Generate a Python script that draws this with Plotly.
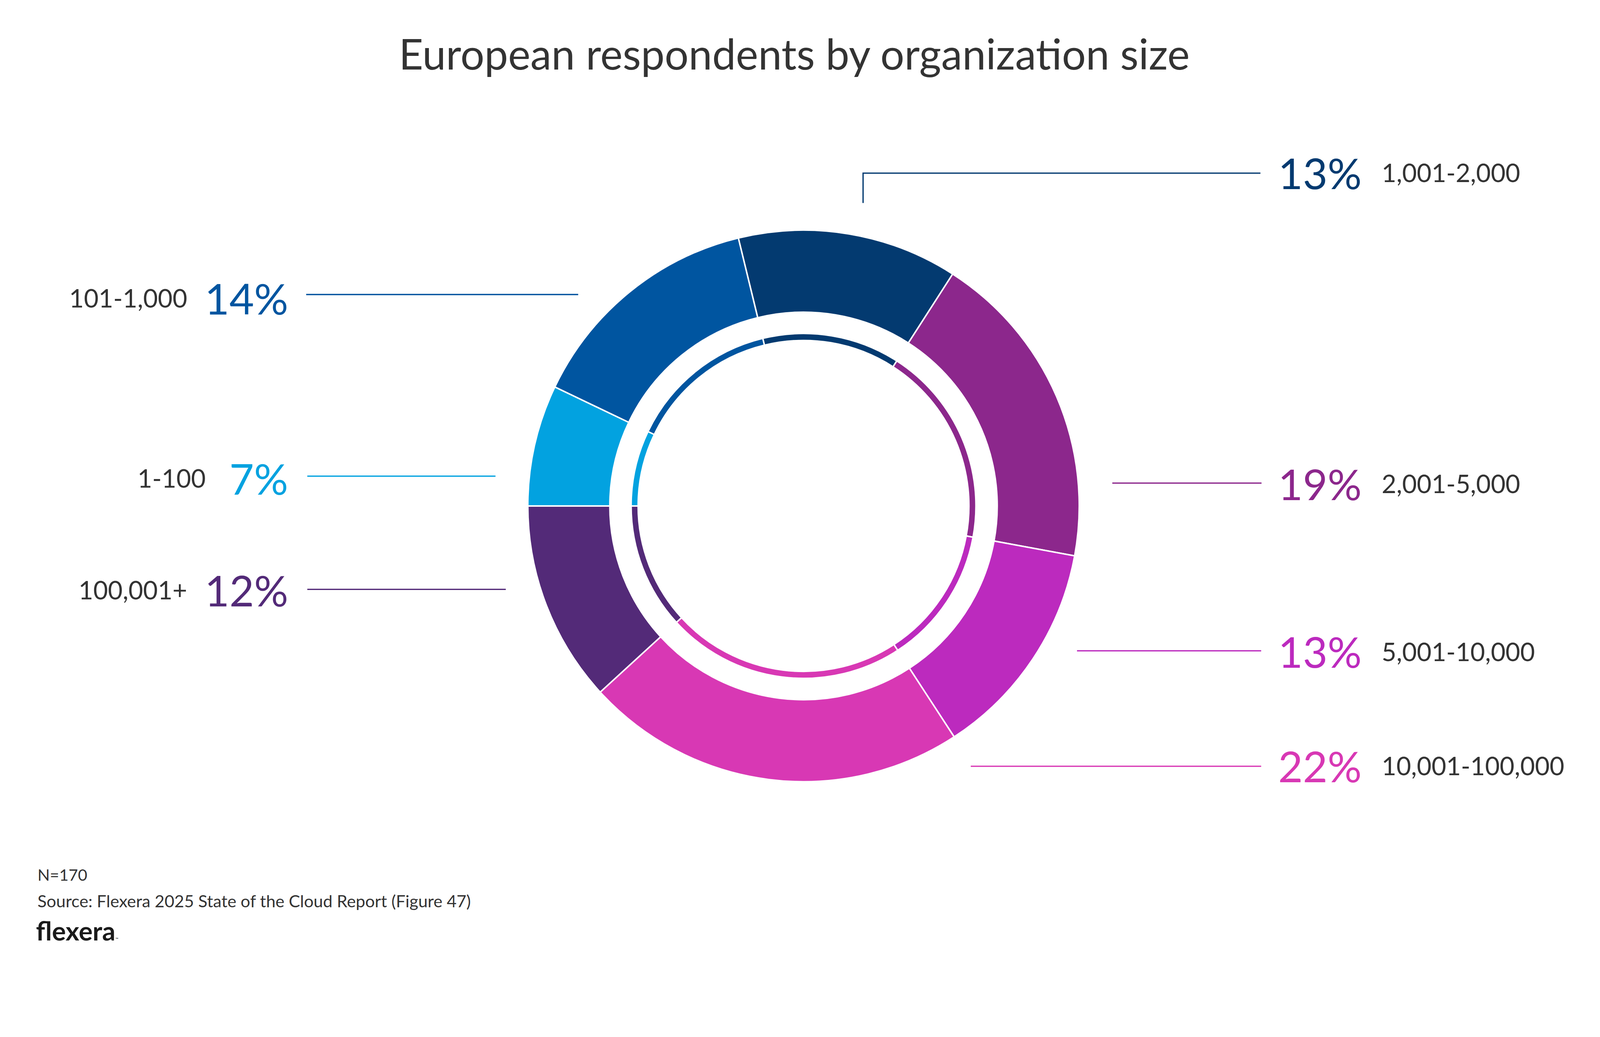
import plotly.graph_objects as go

# ---------------- data ----------------
categories = ["1,001-2,000", "2,001-5,000", "5,001-10,000", "10,001-100,000",
              "100,001+", "1-100", "101-1,000"]
shares = [12.9, 18.8, 12.9, 22.4, 11.8, 7.1, 14.1]   # % of respondents (N=170)
colors = ["#033A70", "#8C278C", "#BC2ABE", "#D838B4", "#532A78", "#02A2E0", "#0055A0"]

title_text = "European respondents by organization size"
note_text = "N=170"
source_text = "Source: Flexera 2025 State of the Cloud Report (Figure 47)"

# ---------------- layout geometry ----------------
# positions are given in reference-image pixels (4351 x 2654) and converted
# to CSS pixels of the page (scale S, offset OFF).
S = 0.941
OFF = 8
REF_W, REF_H = 4351, 2654
W = int(REF_W * S) - 40
H = int(REF_H * S) - 40


def fp(p):
    return p * S - OFF


def px(x):
    return fp(x) / W


def py(y):
    return 1 - fp(y) / H


CX, CY = 2186, 1376          # donut centre
R_OUT, R_OUT_IN = 750, 527   # outer ring radii
R_IN, R_IN_IN = 469, 450     # thin inner ring radii


def dom(r):
    rr = r * S
    cx, cy = fp(CX), fp(CY)
    return dict(x=[(cx - rr) / W, (cx + rr) / W],
                y=[1 - (cy + rr) / H, 1 - (cy - rr) / H])


# slice "100,001+" ends exactly at 9 o'clock
cum = sum(shares[:5])
rotation = 270 - 360 * cum / sum(shares)

FONT = "Lato"
GREY = "#333333"

fig = go.Figure()
for r, hole in [(R_OUT, R_OUT_IN / R_OUT), (R_IN, R_IN_IN / R_IN)]:
    fig.add_trace(go.Pie(
        labels=categories, values=shares, sort=False, direction="clockwise",
        rotation=rotation, hole=hole, domain=dom(r),
        marker=dict(colors=colors, line=dict(color="white", width=4 * S)),
        textinfo="none", hoverinfo="label+percent", showlegend=False,
    ))

# callout geometry: side, line points, text centre y, percent x, category x
callouts = {
    "1,001-2,000":    dict(side="R", pts=[(2348, 552), (2348, 471), (3429, 471)], ty=469, px_=3475, cx=3757),
    "2,001-5,000":    dict(side="R", pts=[(3026, 1314), (3432, 1314)], ty=1315, px_=3475, cx=3757),
    "5,001-10,000":   dict(side="R", pts=[(2930, 1770), (3431, 1770)], ty=1771, px_=3475, cx=3757),
    "10,001-100,000": dict(side="R", pts=[(2641, 2084), (3431, 2084)], ty=2082, px_=3475, cx=3757),
    "100,001+":       dict(side="L", pts=[(836, 1603), (1376, 1603)], ty=1604, px_=786, cx=511),
    "1-100":          dict(side="L", pts=[(836, 1295), (1348, 1295)], ty=1300, px_=786, cx=562),
    "101-1,000":      dict(side="L", pts=[(833, 801), (1573, 801)], ty=810, px_=786, cx=511),
}

annotations = []
shapes = []
for cat, val, col in zip(categories, shares, colors):
    c = callouts[cat]
    path = "M " + " L ".join(f"{px(x)},{py(y)}" for x, y in c["pts"])
    shapes.append(dict(type="path", xref="paper", yref="paper", path=path,
                       line=dict(color=col, width=3.5 * S)))
    anchor = "left" if c["side"] == "R" else "right"
    annotations.append(dict(text=f"{round(val)}%", x=px(c["px_"]), y=py(c["ty"]),
                            xref="paper", yref="paper", xanchor=anchor, yanchor="middle",
                            showarrow=False, font=dict(family=FONT, size=116 * S, color=col)))
    annotations.append(dict(text=cat, x=px(c["cx"]), y=py(c["ty"]),
                            xref="paper", yref="paper", xanchor=anchor, yanchor="middle",
                            showarrow=False, font=dict(family=FONT, size=69 * S, color=GREY)))

annotations.append(dict(text=title_text, x=px(2161), y=py(144), xref="paper", yref="paper",
                        xanchor="center", yanchor="middle", showarrow=False,
                        font=dict(family=FONT, size=115 * S, color=GREY)))
annotations.append(dict(text=note_text, x=px(100), y=py(2378), xref="paper", yref="paper",
                        xanchor="left", yanchor="middle", showarrow=False,
                        font=dict(family=FONT, size=44 * S, color=GREY)))
annotations.append(dict(text=source_text, x=px(100), y=py(2450), xref="paper", yref="paper",
                        xanchor="left", yanchor="middle", showarrow=False,
                        font=dict(family=FONT, size=46 * S, color=GREY)))
annotations.append(dict(text="<b>flexera</b><span style='font-size:10px'>™</span>",
                        x=px(96), y=py(2530), xref="paper", yref="paper",
                        xanchor="left", yanchor="middle", showarrow=False,
                        font=dict(family=FONT, size=71 * S, color="#1A1A1A")))

fig.update_layout(
    width=W, height=H, margin=dict(l=0, r=0, t=0, b=0),
    paper_bgcolor="white", plot_bgcolor="white",
    annotations=annotations, shapes=shapes, showlegend=False,
)

fig.write_html("out.html")
